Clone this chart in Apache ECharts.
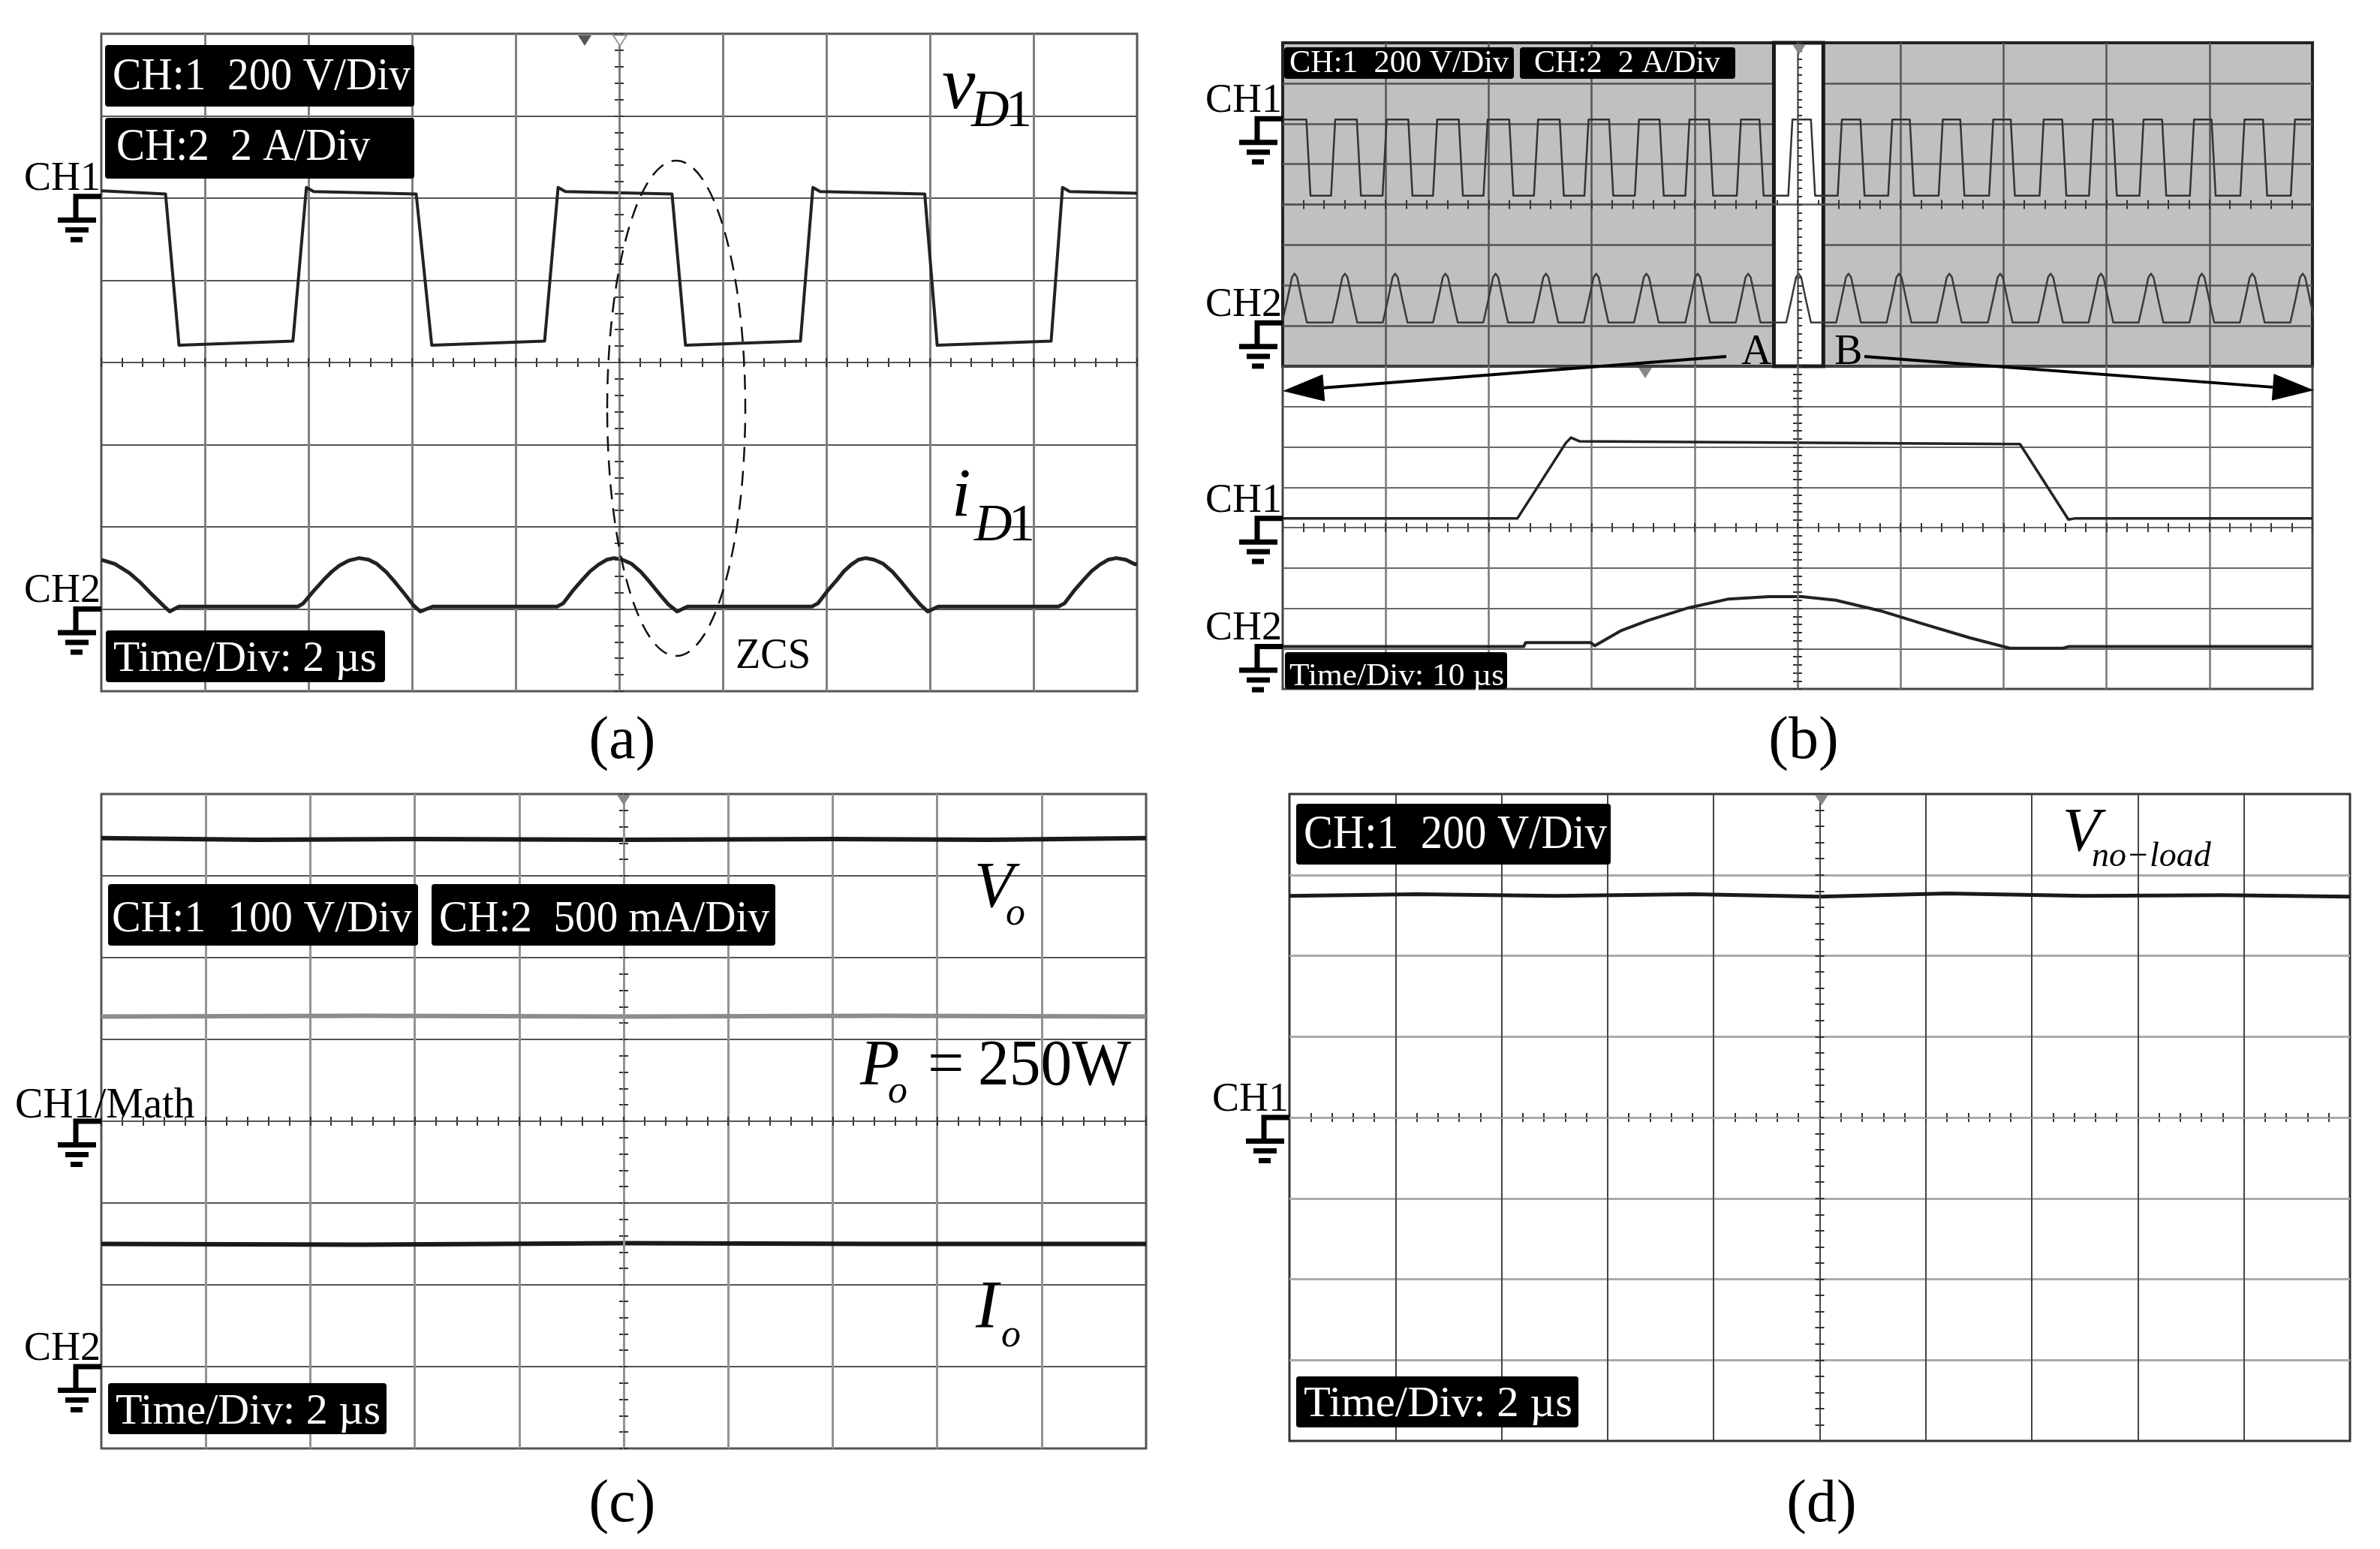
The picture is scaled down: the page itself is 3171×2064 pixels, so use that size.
<!DOCTYPE html>
<html>
<head>
<meta charset="utf-8">
<script src="https://cdn.jsdelivr.net/npm/echarts@6.0.0/dist/echarts.min.js"></script>
<style>
  html, body { margin: 0; padding: 0; background: #fff; }
  #chart { width: 3171px; height: 2064px; }
</style>
</head>
<body>
<div id="chart"></div>
<script>
// All values are in screen divisions, centre of each scope screen = (0, 0)
// x: -5 .. 5 (10 div), y: -4 .. 4 (8 div)

// (a) diode voltage / current, 2 us/div
const aVd1 = [[-5.0,2.09],[-4.38,2.05],[-4.25,0.21],[-3.15,0.26],[-3.02,2.13],[-2.95,2.08],[-1.96,2.05],[-1.81,0.21],[-0.72,0.26],[-0.59,2.13],[-0.52,2.08],[0.51,2.05],[0.64,0.21],[1.75,0.26],[1.87,2.13],[1.94,2.08],[2.95,2.05],[3.07,0.21],[4.17,0.26],[4.28,2.13],[4.35,2.08],[5.0,2.06]];
const aId1 = [
  [-5.0,-2.40],[-4.87,-2.45],[-4.73,-2.56],[-4.63,-2.67],[-4.53,-2.80],[-4.40,-2.96],[-4.34,-3.03],[-4.25,-2.97],
  [-3.10,-2.97],[-3.05,-2.93],[-2.95,-2.78],[-2.85,-2.64],[-2.77,-2.54],[-2.70,-2.47],[-2.61,-2.41],[-2.51,-2.38],[-2.42,-2.40],[-2.34,-2.45],[-2.25,-2.55],[-2.16,-2.68],[-2.07,-2.82],[-1.99,-2.95],[-1.92,-3.03],[-1.80,-2.97],
  [-0.60,-2.97],[-0.54,-2.93],[-0.45,-2.78],[-0.36,-2.65],[-0.28,-2.54],[-0.20,-2.46],[-0.12,-2.40],[-0.05,-2.38],[0.03,-2.40],[0.12,-2.45],[0.21,-2.55],[0.30,-2.68],[0.39,-2.82],[0.48,-2.95],[0.56,-3.03],[0.66,-2.97],
  [1.86,-2.97],[1.92,-2.93],[2.01,-2.78],[2.10,-2.65],[2.17,-2.54],[2.24,-2.46],[2.31,-2.40],[2.38,-2.38],[2.46,-2.40],[2.55,-2.45],[2.64,-2.55],[2.73,-2.68],[2.82,-2.82],[2.91,-2.95],[2.98,-3.03],[3.08,-2.97],
  [4.24,-2.97],[4.30,-2.93],[4.39,-2.78],[4.48,-2.65],[4.56,-2.54],[4.64,-2.46],[4.72,-2.40],[4.80,-2.38],[4.89,-2.40],[4.97,-2.45],[5.0,-2.46]
];
const aGround = [2.02, -3.0];

// (b) upper screen: long record, edges and current peaks
const bTopHigh = 2.10, bTopLow = 0.22, bTopEdge = 0.04;
const bTopFall = [-4.77,-4.28,-3.78,-3.29,-2.80,-2.31,-1.83,-1.34,-0.86,-0.37,0.13,0.61,1.09,1.58,2.07,2.57,3.06,3.54,4.02,4.52];
const bTopRise = [-4.53,-4.03,-3.54,-3.05,-2.56,-2.07,-1.58,-1.09,-0.59,-0.09,0.39,0.88,1.37,1.86,2.35,2.83,3.32,3.81,4.30,4.79];
const bTopPeaks = [-4.885,-4.396,-3.908,-3.42,-2.932,-2.444,-1.956,-1.468,-0.97,-0.48,0.01,0.495,0.985,1.474,1.968,2.457,2.946,3.432,3.926,4.416,4.905];
const bTopHump = [[-0.12,-2.92],[-0.07,-2.35],[-0.025,-1.80],[0,-1.71],[0.025,-1.80],[0.07,-2.35],[0.12,-2.92]];
const bWindow = [-0.23, 0.25];
const bTopGround = [2.12, -2.93];

// (b) lower screen: zoomed window A-B, 10 us/div
const bBotCh1 = [[-5,0.23],[-2.72,0.23],[-2.25,2.10],[-2.20,2.23],[-2.12,2.14],[-1.0,2.12],[1.0,2.09],[2.16,2.07],[2.63,0.20],[2.70,0.23],[5,0.23]];
const bBotCh2 = [[-5,-2.95],[-2.66,-2.95],[-2.64,-2.85],[-2.01,-2.85],[-1.97,-2.93],[-1.71,-2.55],[-1.45,-2.30],[-1.06,-1.99],[-0.67,-1.77],[-0.28,-1.71],[0.04,-1.71],[0.37,-1.80],[0.83,-2.08],[1.22,-2.39],[1.67,-2.73],[2.06,-2.99],[2.58,-2.99],[2.63,-2.95],[5,-2.95]];
const bBotGround = [0.23, -2.95];

// (c) output voltage, math trace and output current
const cVo = [[-5,3.46],[-3.5,3.44],[-2,3.45],[0,3.44],[2,3.45],[3.5,3.44],[5,3.46]];
const cMath = [[-5,1.28],[-2.5,1.29],[0,1.28],[2.5,1.29],[5,1.28]];
const cIo = [[-5,-1.50],[-2.5,-1.51],[0,-1.49],[2.5,-1.50],[5,-1.50]];
const cGround = [0, -3.0];

// (d) no-load voltage
const dNoLoad = [[-5,2.74],[-3.8,2.76],[-2.5,2.74],[-1.2,2.76],[0,2.73],[1.2,2.77],[2.5,2.74],[3.8,2.75],[5,2.73]];
const dGround = [0];

// build the repeated waveforms of the upper (b) screen from the read edges / peaks
const bTopCh1 = [[-5, bTopHigh]];
bTopFall.forEach((f, i) => {
  bTopCh1.push([f, bTopHigh], [f + bTopEdge, bTopLow]);
  const r = bTopRise[i];
  bTopCh1.push([r, bTopLow], [r + bTopEdge, bTopHigh]);
});
bTopCh1.push([5, bTopHigh]);
const bTopCh2 = [];
bTopPeaks.forEach(p => bTopHump.forEach(([dx, y]) => bTopCh2.push([p + dx, y])));

const grids = [
  { left: 135, top: 45, width: 1380, height: 876 },
  { left: 1709, top: 57, width: 1372, height: 431 },
  { left: 1709, top: 488, width: 1372, height: 430 },
  { left: 135, top: 1058, width: 1392, height: 872 },
  { left: 1718, top: 1058, width: 1413, height: 862 }
];
const looks = [
  { v: '#808080', vw: 3, h: '#555', hw: 2, border: '#555', bw: 3, bg: 'rgba(0,0,0,0)' },
  { v: '#555', vw: 2.5, h: '#555', hw: 2.5, border: '#222', bw: 4, bg: '#c0c0c0' },
  { v: '#777', vw: 2.5, h: '#666', hw: 2, border: '#444', bw: 3, bg: 'rgba(0,0,0,0)' },
  { v: '#939393', vw: 3, h: '#555', hw: 2, border: '#555', bw: 3, bg: 'rgba(0,0,0,0)' },
  { v: '#444', vw: 2, h: '#aaa', hw: 3, border: '#333', bw: 3, bg: 'rgba(0,0,0,0)' }
];

const xAxes = [], yAxes = [];
grids.forEach((g, gi) => {
  const s = looks[gi];
  const tick = { show: true, length: 6, lineStyle: { color: '#333', width: 2 } };
  const minor = { show: true, splitNumber: 5, length: 6, lineStyle: { color: '#333', width: 2 } };
  const base = { type: 'value', gridIndex: gi, axisLabel: { show: false } };
  xAxes.push(
    { ...base, min: -5, max: 5, interval: 1, position: 'bottom', z: 0,
      axisLine: { show: false, onZero: true }, axisTick: tick, minorTick: minor,
      splitLine: { show: true, showMinLine: false, showMaxLine: false, lineStyle: { color: s.v, width: s.vw } } },
    { ...base, min: -5, max: 5, interval: 1, position: 'top', z: 5,
      axisLine: { show: true, onZero: true, lineStyle: { color: s.h, width: s.hw } },
      axisTick: tick, minorTick: minor, splitLine: { show: false } }
  );
  yAxes.push(
    { ...base, min: -4, max: 4, interval: 1, position: 'left', z: 0,
      axisLine: { show: false, onZero: true }, axisTick: tick, minorTick: minor,
      splitLine: { show: true, showMinLine: false, showMaxLine: false, lineStyle: { color: s.h, width: s.hw } } },
    { ...base, min: -4, max: 4, interval: 1, position: 'right', z: 5,
      axisLine: { show: true, onZero: true, lineStyle: { color: s.v, width: s.vw } },
      axisTick: tick, minorTick: minor, splitLine: { show: false } }
  );
});

function trace(gi, data, color, width, smooth) {
  return {
    type: 'line', xAxisIndex: 2 * gi, yAxisIndex: 2 * gi, data,
    symbol: 'none', silent: true, z: 2, clip: true,
    smooth: smooth || false,
    lineStyle: { color, width, join: 'round' }
  };
}

const chart = echarts.init(document.getElementById('chart'), null, { renderer: 'canvas' });
chart.setOption({
  animation: false,
  backgroundColor: '#fff',
  grid: grids.map((g, gi) => ({ ...g, show: true, borderColor: looks[gi].border, borderWidth: looks[gi].bw, backgroundColor: looks[gi].bg })),
  xAxis: xAxes,
  yAxis: yAxes,
  series: [
    trace(0, aVd1, '#222', 4),
    trace(0, aId1, '#222', 5),
    { type: 'line', xAxisIndex: 2, yAxisIndex: 2, data: [], z: 1, silent: true,
      markArea: { silent: true, itemStyle: { color: '#fff', borderColor: '#1a1a1a', borderWidth: 5 },
        data: [[{ coord: [bWindow[0], -4] }, { coord: [bWindow[1], 4] }]] } },
    trace(1, bTopCh1, '#333', 2.5),
    trace(1, bTopCh2, '#3a3a3a', 2.5),
    trace(2, bBotCh1, '#222', 3.5),
    trace(2, bBotCh2, '#222', 4),
    trace(3, cVo, '#1a1a1a', 6),
    trace(3, cMath, '#8c8c8c', 6),
    trace(3, cIo, '#1a1a1a', 6),
    trace(4, dNoLoad, '#1a1a1a', 5)
  ]
});

// ---------- annotations ----------
const SERIF = '"Liberation Serif", "Times New Roman", serif';
const meas = document.createElement('canvas').getContext('2d');

function label(text, x, base, size, o = {}) {
  const font = (o.italic ? 'italic ' : '') + size + 'px ' + SERIF;
  let sx = 1;
  if (o.width) { meas.font = font; sx = o.width / meas.measureText(text).width; }
  const al = o.align || 'left';
  return { type: 'text', z: 20, silent: true, x, y: base - 0.32 * size, scaleX: sx,
    style: { text, x: 0, y: 0, font, fill: o.color || '#000', textAlign: al, textVerticalAlign: 'middle', align: al, verticalAlign: 'middle' } };
}
function box(r, text, tx, base, size, width) {
  return [
    { type: 'rect', z: 15, silent: true, shape: { x: r[0], y: r[1], width: r[2], height: r[3], r: 4 }, style: { fill: '#000' } },
    label(text, tx, base, size, { width, color: '#fff' })
  ];
}
function ground(x0, y) {
  return [
    { type: 'polyline', z: 15, silent: true, shape: { points: [[x0, y], [x0 - 34, y], [x0 - 34, y + 31]] }, style: { stroke: '#000', lineWidth: 7, fill: 'none' } },
    { type: 'rect', z: 15, silent: true, shape: { x: x0 - 58, y: y + 28, width: 51, height: 7 }, style: { fill: '#000' } },
    { type: 'rect', z: 15, silent: true, shape: { x: x0 - 48, y: y + 41, width: 31, height: 7 }, style: { fill: '#000' } },
    { type: 'rect', z: 15, silent: true, shape: { x: x0 - 41, y: y + 54, width: 16, height: 7 }, style: { fill: '#000' } }
  ];
}
function trig(x, y, color, hollow) {
  return { type: 'polygon', z: 15, silent: true, shape: { points: [[x - 9, y], [x + 9, y], [x, y + 14]] },
    style: hollow ? { fill: '#fff', stroke: color, lineWidth: 2 } : { fill: color } };
}
function arrow(x1, y1, x2, y2) {
  const dx = x2 - x1, dy = y2 - y1, L = Math.hypot(dx, dy), ux = dx / L, uy = dy / L;
  const bx = x2 - 55 * ux, by = y2 - 55 * uy, w = 18;
  return [
    { type: 'line', z: 15, silent: true, shape: { x1, y1, x2: bx, y2: by }, style: { stroke: '#000', lineWidth: 4 } },
    { type: 'polygon', z: 15, silent: true, shape: { points: [[x2, y2], [bx - uy * w, by + ux * w], [bx + uy * w, by - ux * w]] }, style: { fill: '#000' } }
  ];
}
const py = (gi, v) => chart.convertToPixel({ xAxisIndex: 2 * gi, yAxisIndex: 2 * gi }, [0, v])[1];

const g = [];
// ground markers and channel names
[[0, aGround, ['CH1', 'CH2']], [1, bTopGround, ['CH1', 'CH2']], [2, bBotGround, ['CH1', 'CH2']], [3, cGround, ['CH1/Math', 'CH2']], [4, dGround, ['CH1']]]
  .forEach(([gi, levels, names]) => {
    levels.forEach((lv, k) => {
      const y = py(gi, lv);
      const x0 = grids[gi].left;
      g.push(...ground(x0, y));
      if (names[k] === 'CH1/Math') g.push(label(names[k], 20, y - 2, 56));
      else g.push(label(names[k], x0 - 1, y - 6, 54, { align: 'right' }));
    });
  });

// (a)
g.push(...box([140, 60, 412, 82], 'CH:1  200 V/Div', 150, 123, 62, 397));
g.push(...box([140, 157, 412, 81], 'CH:2  2 A/Div', 155, 217, 62, 338));
g.push(...box([141, 840, 372, 69], 'Time/Div: 2 \u00b5s', 151, 897, 56, 351));
g.push(label('v', 1255, 150, 100, { italic: true }));
g.push(label('D', 1294, 172, 70, { italic: true }), label('1', 1340, 172, 70));
g.push(label('i', 1268, 692, 92, { italic: true }));
g.push(label('D', 1298, 724, 70, { italic: true }), label('1', 1344, 724, 70));
g.push(label('ZCS', 980, 893, 56, { width: 100 }));
g.push({ type: 'ellipse', z: 15, silent: true, shape: { cx: 901, cy: 544, rx: 92, ry: 330 },
  style: { fill: 'none', stroke: '#111', lineWidth: 2.5, lineDash: [20, 12] } });
g.push(trig(779, 47, '#555'), trig(826, 47, '#999', true));
g.push(label('(a)', 829, 1015, 80, { align: 'center' }));

// (b)
g.push(...box([1711, 63, 306, 42], 'CH:1  200 V/Div', 1718, 98, 42, 292));
g.push(...box([2025, 63, 287, 42], 'CH:2  2 A/Div', 2044, 98, 42, 248));
g.push(...box([1712, 869, 296, 49], 'Time/Div: 10 \u00b5s', 1718, 915, 42, 286));
g.push(...arrow(2300, 475, 1709, 521));
g.push(...arrow(2484, 475, 3083, 520));
g.push(label('A', 2320, 488, 56), label('B', 2444, 488, 56));
g.push(trig(2397, 59, '#888'), trig(2192, 490, '#888'));
g.push(label('(b)', 2403, 1015, 80, { align: 'center' }));

// (c)
g.push(...box([144, 1178, 413, 82], 'CH:1  100 V/Div', 149, 1244, 60, 400));
g.push(...box([575, 1178, 458, 82], 'CH:2  500 mA/Div', 585, 1244, 60, 440));
g.push(...box([144, 1843, 371, 68], 'Time/Div: 2 \u00b5s', 154, 1900, 56, 353));
g.push(label('V', 1298, 1213, 86, { italic: true }), label('o', 1340, 1235, 52, { italic: true }));
g.push(label('P', 1146, 1450, 86, { italic: true }), label('o', 1183, 1472, 52, { italic: true }));
g.push(label('=', 1236, 1450, 86), label('250W', 1303, 1450, 86, { width: 204 }));
g.push(label('I', 1300, 1774, 90, { italic: true }), label('o', 1334, 1797, 52, { italic: true }));
g.push(trig(831, 1059, '#888'));
g.push(label('(c)', 829, 2032, 80, { align: 'center' }));

// (d)
g.push(...box([1727, 1071, 419, 81], 'CH:1  200 V/Div', 1737, 1134, 64, 404));
g.push(...box([1727, 1834, 376, 68], 'Time/Div: 2 \u00b5s', 1737, 1890, 56, 358));
g.push(label('V', 2748, 1138, 82, { italic: true }));
g.push(label('no\u2212load', 2787, 1157, 46, { italic: true }));
g.push(trig(2427, 1059, '#888'));
g.push(label('(d)', 2427, 2032, 80, { align: 'center' }));

chart.setOption({ graphic: { elements: g } });
</script>
</body>
</html>
